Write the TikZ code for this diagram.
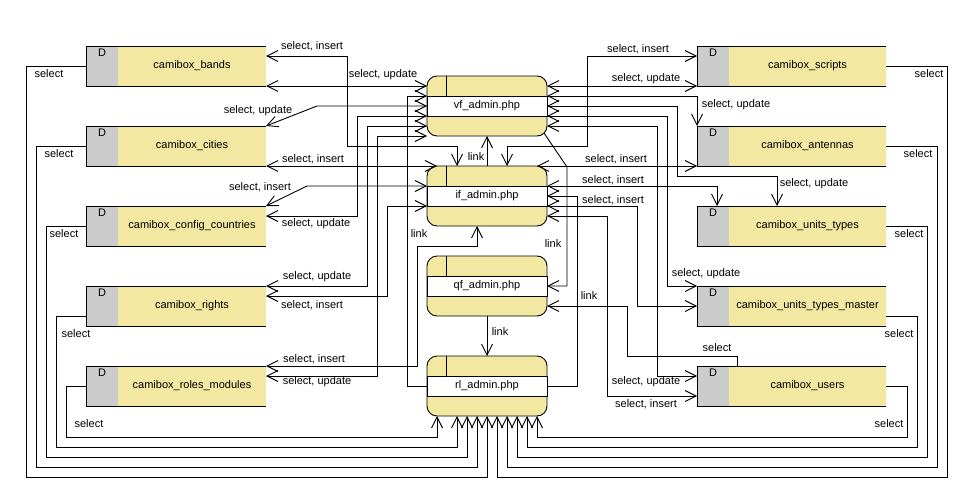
\documentclass[tikz,border=0pt]{standalone}
\usepackage{fontspec}
\setmainfont{Liberation Sans}
\usetikzlibrary{arrows.meta, positioning}

\definecolor{storeyellow}{RGB}{242,232,162}
\definecolor{storegray}{RGB}{204,204,204}

\begin{document}
\begin{tikzpicture}[x=1pt, y=-1pt, line width=0.9pt,
    font=\fontsize{11}{13}\selectfont,
    >={Straight Barb[length=11pt,width=11pt]},
    dcell/.style={draw, fill=storegray, minimum width=32pt, minimum height=40pt,
        inner sep=0pt, outer sep=0pt, label={[anchor=north, inner sep=2pt]north:D}},
    store/.style={fill=storeyellow, minimum width=#1, minimum height=40pt,
        inner sep=0pt, outer sep=0pt},
    store/.default=148pt,
    proc/.style={draw, fill=storeyellow, rounded corners=10pt, minimum width=120pt,
        minimum height=60pt, inner sep=0pt, outer sep=0pt},
    procname/.style={draw, fill=white, minimum width=120pt, minimum height=20pt,
        inner sep=0pt, outer sep=0pt},
    flow/.style={<->},
    lbl/.style={inner sep=1pt}]

\useasboundingbox (0,0) rectangle (977,503);

% data stores, left column
\foreach \n/\txt/\y in {bands/camibox\_bands/66, cities/camibox\_cities/146,
    config/camibox\_config\_countries/226, rights/camibox\_rights/306,
    roles/camibox\_roles\_modules/386} {
  \node[dcell] (\n-d) at (102,\y) {};
  \node[store, right=0pt of \n-d] (\n) {\txt};
  \draw (\n-d.north west) -- (\n.north east) (\n-d.south west) -- (\n.south east);
}

% data stores, right column
\foreach \n/\txt/\y in {scripts/camibox\_scripts/66, antennas/camibox\_antennas/146,
    ut/camibox\_units\_types/226, utm/camibox\_units\_types\_master/306,
    users/camibox\_users/386} {
  \node[dcell] (\n-d) at (713,\y) {};
  \node[store=157pt, right=0pt of \n-d] (\n) {\txt};
  \draw (\n-d.north west) -- (\n.north east) (\n-d.south west) -- (\n.south east);
}

% processes
\foreach \n/\txt/\y in {vf/vf\_admin.php/106, if/if\_admin.php/196,
    qf/qf\_admin.php/286, rl/rl\_admin.php/386} {
  \node[proc] (\n) at (487,\y) {};
  \node[procname] (\n-t) at (\n) {\txt};
  \draw ([xshift=19pt]\n.north west) -- ([xshift=19pt]\n-t.north west);
}

% left stores <-> processes
\draw[flow] (bands.east |- 0,56) -| (347,146) -| (if.north -| 457,0);
\draw[flow] (bands.south east) -- (vf.west |- bands.south east);
\draw[flow] (cities.north east) -- (317,106) -- (vf.west |- 0,106);
\draw[flow] (cities.south east) -- ([xshift=10pt]if.north west);
\draw[flow] (config.north east) -- (307,186) -- (if.west |- 0,186);
\draw[flow] (config.east |- 0,216) -| (357,116) -- (vf.west |- 0,116);
\draw[flow] (rights.north east) -| (367,126) -- (vf.west |- 0,126);
\draw[flow] (rights.east |- 0,296) -| (387,206) -- (if.west |- 0,206);
\draw[flow] (roles.east |- 0,366) -| (417,246) -| (if.south -| 477,0);
\draw[flow] (roles.east |- 0,376) -| (377,136) -- (vf.west |- 0,136);

% right stores <-> processes
\draw[flow] (if.north -| 507,0) |- (587,146) |- (scripts-d.west |- 0,56);
\draw[flow] (vf.east |- 0,86) -- (scripts-d.south west);
\draw[flow] (vf.east |- 0,96) -| (antennas-d.north west);
\draw[flow] ([xshift=-10pt]if.north east) -- (antennas-d.south west);
\draw[flow] (vf.east |- 0,106) -| (677,176) -| (ut.north -| 777,0);
\draw[flow] (if.east |- 0,186) -| (ut-d.north -| 717,0);
\draw[flow] (vf.east |- 0,116) -| (667,286) -- (utm-d.north west);
\draw[flow] (if.east |- 0,206) -| (637,306) -- (utm-d.west |- 0,306);
\draw[flow] (vf.east |- 0,126) -| (657,376) -- (users-d.west |- 0,376);
\draw[flow] (if.east |- 0,216) -| (607,396) -- (users-d.west |- 0,396);

% links
\draw[<-] (vf.south) -- (if.north);
\draw[->] (qf.south) -- (rl.north);
\draw[<-] (vf.west |- 0,96) -| (407,386) -- (rl.west);
\draw[->] ([xshift=-3pt,yshift=3pt]vf.south east) -- (567,167) |- (qf.east);
\draw[<-] (if.east |- 0,196) -| (577,386) -- (rl.east);
\draw[<-] (qf.east |- 0,306) -| (627,356) -| (users.north -| 737,0);

% select loops to rl_admin
\draw[->] (bands-d.west) -| (26,477) -| (rl.south -| 487,0);
\draw[->] (cities-d.west) -| (36,467) -| (rl.south -| 477,0);
\draw[->] (config-d.west) -| (46,457) -| (rl.south -| 467,0);
\draw[->] (rights-d.west |- 0,316) -| (56,447) -| (rl.south -| 457,0);
\draw[->] (roles-d.west) -| (66,437) -| (rl.south -| 437,0);
\draw[->] (scripts.east) -| (947,477) -| (rl.south -| 497,0);
\draw[->] (antennas.east) -| (937,467) -| (rl.south -| 507,0);
\draw[->] (ut.east) -| (927,457) -| (rl.south -| 517,0);
\draw[->] (utm.east |- 0,316) -| (917,447) -| (rl.south -| 527,0);
\draw[->] (users.east) -| (907,437) -| (rl.south -| 537,0);

% labels
\node[lbl] (l-bands-if) at (312,46) {select, insert};
\node[lbl] (l-bands-vf) at (383,75) {select, update};
\node[lbl] (l-cities-vf) at (258,111) {select, update};
\node[lbl] (l-cities-if) at (313,159) {select, insert};
\node[lbl] (l-config-if) at (260,187) {select, insert};
\node[lbl] (l-config-vf) at (316,224) {select, update};
\node[lbl] (l-rights-vf) at (317,277) {select, update};
\node[lbl] (l-rights-if) at (312,305) {select, insert};
\node[lbl] (l-roles-if) at (314,359) {select, insert};
\node[lbl] (l-roles-vf) at (317,382) {select, update};
\node[lbl] (l-scripts-if) at (638,49) {select, insert};
\node[lbl] (l-scripts-vf) at (646,79) {select, update};
\node[lbl] (l-antennas-vf) at (736,105) {select, update};
\node[lbl] (l-antennas-if) at (616,159) {select, insert};
\node[lbl] (l-ut-if) at (613,180) {select, insert};
\node[lbl] (l-ut-vf) at (814,184) {select, update};
\node[lbl] (l-utm-if) at (613,200) {select, insert};
\node[lbl] (l-utm-vf) at (706,274) {select, update};
\node[lbl] (l-users-vf) at (646,382) {select, update};
\node[lbl] (l-users-if) at (646,404) {select, insert};
\node[lbl] (l-users-qf) at (717,348) {select};
\node[lbl] (l-link-vfif) at (476,157) {link};
\node[lbl] (l-link-vfrl) at (419,234) {link};
\node[lbl] (l-link-ifrl) at (553,244) {link};
\node[lbl] (l-link-qfrl) at (500,332) {link};
\node[lbl] (l-link-qfus) at (589,296) {link};
\node[lbl] (s-bands) at (49,74) {select};
\node[lbl] (s-cities) at (59,154) {select};
\node[lbl] (s-config) at (64,234) {select};
\node[lbl] (s-rights) at (76,334) {select};
\node[lbl] (s-roles) at (89,424) {select};
\node[lbl] (s-scripts) at (929,74) {select};
\node[lbl] (s-antennas) at (918,154) {select};
\node[lbl] (s-ut) at (909,234) {select};
\node[lbl] (s-utm) at (899,334) {select};
\node[lbl] (s-users) at (889,424) {select};
\end{tikzpicture}
\end{document}
